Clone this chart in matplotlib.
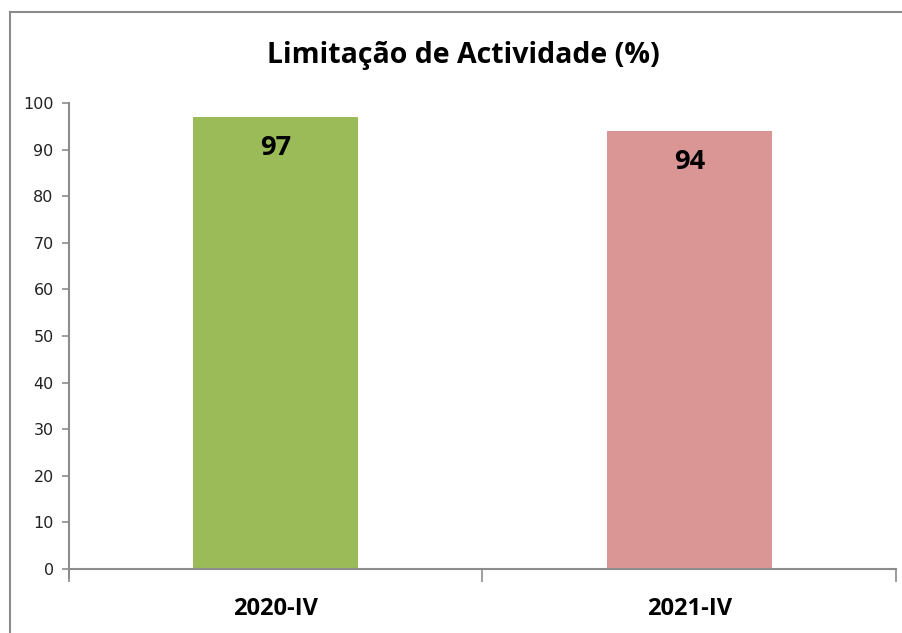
import matplotlib
matplotlib.use("Agg")
import matplotlib.pyplot as plt
from matplotlib.lines import Line2D

categories = ["2020-IV", "2021-IV"]
values = [97, 94]
colors = ["#9BBB59", "#D99694"]
yticks = [0, 10, 20, 30, 40, 50, 60, 70, 80, 90, 100]
title = "Limitação de Actividade (%)"

W, H = 903, 633
fig = plt.figure(figsize=(W / 100, H / 100), dpi=100)
fig.patch.set_facecolor("white")

# outer chart border (left and top visible)
fig.add_artist(Line2D([10 / W, 10 / W], [0, 1 - 12 / H], color="#8C8C8C", lw=1.5))
fig.add_artist(Line2D([10 / W, 1], [1 - 12 / H, 1 - 12 / H], color="#8C8C8C", lw=1.5))

left, right, top, bottom = 69, 896, 103, 569
ax = fig.add_axes([left / W, 1 - bottom / H, (right - left) / W, (bottom - top) / H])

x = list(range(len(categories)))
bars = ax.bar(x, values, width=0.4, color=colors, zorder=2)
ax.set_xlim(-0.5, len(categories) - 0.5)
ax.set_ylim(0, 100)
ax.set_yticks(yticks)
ax.set_yticklabels([str(v) for v in yticks], fontsize=11.5, color="#222222",
                   family="DejaVu Sans")

# category labels centred, ticks at category boundaries
ax.set_xticks([i - 0.5 for i in range(len(categories) + 1)])
ax.set_xticklabels([])
ax.set_xticks(x, minor=True)
ax.set_xticklabels(categories, minor=True, fontsize=17, fontweight="bold",
                   family="Open Sans")
ax.tick_params(axis="x", which="minor", length=0, pad=20)
ax.tick_params(axis="x", which="major", length=9, color="#8C8C8C", width=1.2)
ax.tick_params(axis="y", length=5, color="#8C8C8C", width=1.2, pad=6)

for s in ["top", "right"]:
    ax.spines[s].set_visible(False)
for s in ["left", "bottom"]:
    ax.spines[s].set_color("#8C8C8C")
    ax.spines[s].set_linewidth(1.5)
ax.spines["left"].set_bounds(-2.0, 100)

for xi, v in zip(x, values):
    ax.annotate(str(v), (xi, v), xytext=(0, -13), textcoords="offset points",
                ha="center", va="top", fontsize=19.5, fontweight="bold",
                family="Open Sans", color="black")

fig.text(463 / W, 1 - 55 / H, title, ha="center", va="center", fontsize=20.5,
         fontweight="bold", family="Open Sans")

fig.savefig("out.png", dpi=100)
